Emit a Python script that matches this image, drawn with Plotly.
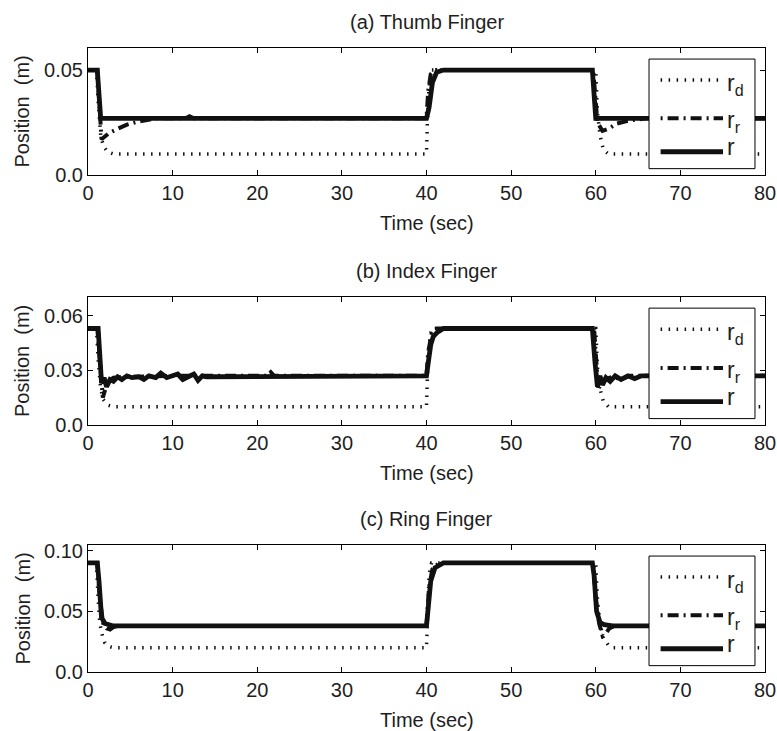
import plotly.graph_objects as go

# ---------------- data ----------------
x_ticks = [0, 10, 20, 30, 40, 50, 60, 70, 80]

# (a) Thumb
thumb_rd_t = [0, 1.0, 1.2, 1.5, 1.8, 2.3, 3.0, 40.0, 40.1, 40.3, 40.6, 60.0, 60.2, 60.5, 60.9, 61.5, 80]
thumb_rd = [0.05, 0.05, 0.035, 0.019, 0.014, 0.011, 0.010, 0.010, 0.025, 0.042, 0.05, 0.05, 0.030, 0.019, 0.012, 0.010, 0.010]
thumb_rr_t = [0, 1.1, 1.6, 2.5, 3.5, 4.6, 6.0, 8.0, 11.5, 12.0, 12.5, 40.0, 40.2, 40.5, 41.0, 59.7, 60.2, 60.8, 61.5, 62.5, 64.0, 66.0, 80]
thumb_rr = [0.05, 0.05, 0.017, 0.020, 0.022, 0.024, 0.0255, 0.027, 0.027, 0.028, 0.027, 0.027, 0.040, 0.048, 0.05, 0.05, 0.025, 0.021, 0.022, 0.0245, 0.026, 0.027, 0.027]
thumb_r_t = [0, 1.1, 1.5, 40.0, 40.3, 40.7, 41.2, 42.0, 59.6, 60.0, 80]
thumb_r = [0.05, 0.05, 0.027, 0.027, 0.032, 0.044, 0.049, 0.05, 0.05, 0.027, 0.027]

# (b) Index
index_rd_t = [0, 1.0, 1.2, 1.5, 1.8, 2.3, 3.0, 40.0, 40.1, 40.3, 40.6, 60.0, 60.2, 60.5, 60.9, 61.5, 80]
index_rd = [0.053, 0.053, 0.036, 0.020, 0.014, 0.011, 0.010, 0.010, 0.026, 0.044, 0.053, 0.053, 0.032, 0.020, 0.013, 0.010, 0.010]
index_rr_t = [0, 1.1, 1.5, 1.75, 2.0, 2.4, 3.0, 5.0, 10.0, 21.2, 21.6, 22.0, 40.0, 40.2, 40.6, 41.2, 59.8, 60.1, 60.3, 60.5, 61.0, 62.0, 63.0, 64.0, 80]
index_rr = [0.053, 0.053, 0.030, 0.015, 0.019, 0.024, 0.026, 0.0265, 0.027, 0.027, 0.029, 0.027, 0.027, 0.040, 0.050, 0.053, 0.053, 0.030, 0.019, 0.022, 0.025, 0.0265, 0.025, 0.027, 0.027]
index_r_t = [0, 1.2, 1.6, 1.9, 2.2, 2.6, 3.0, 3.5, 4.0, 4.6, 5.2, 6.0, 6.6, 7.2, 8.0, 8.6, 9.3, 10.0, 10.6, 11.2, 11.8, 12.5, 13.0, 13.5, 14.0,
             40.0, 40.2, 40.5, 40.8, 41.3, 42.0, 59.6, 59.9, 60.2, 60.5, 60.8, 61.2, 61.7, 62.3, 63.0, 63.8, 64.6, 65.4, 66.0, 80]
index_r = [0.053, 0.053, 0.023, 0.026, 0.021, 0.025, 0.024, 0.0265, 0.025, 0.027, 0.026, 0.0265, 0.025, 0.027, 0.026, 0.0285, 0.026, 0.027, 0.028, 0.025, 0.0265, 0.028, 0.0245, 0.027, 0.0265,
           0.027, 0.034, 0.044, 0.0486, 0.051, 0.053, 0.053, 0.035, 0.021, 0.027, 0.022, 0.026, 0.024, 0.027, 0.025, 0.027, 0.0255, 0.027, 0.027, 0.027]

# (c) Ring
ring_rd_t = [0, 1.0, 1.2, 1.4, 1.7, 2.0, 2.5, 3.0, 40.0, 40.1, 40.3, 40.6, 60.0, 60.2, 60.5, 60.9, 61.5, 62.0, 80]
ring_rd = [0.09, 0.09, 0.06, 0.04, 0.03, 0.024, 0.021, 0.020, 0.020, 0.050, 0.080, 0.090, 0.090, 0.060, 0.040, 0.028, 0.022, 0.020, 0.020]
ring_rr_t = [0, 1.1, 1.4, 1.8, 2.2, 2.6, 3.0, 3.5, 40.0, 40.1, 40.3, 40.7, 41.5, 59.7, 60.0, 60.4, 60.8, 61.2, 61.6, 62.2, 80]
ring_rr = [0.09, 0.09, 0.06, 0.040, 0.036, 0.035, 0.037, 0.038, 0.038, 0.050, 0.070, 0.085, 0.090, 0.090, 0.060, 0.040, 0.030, 0.032, 0.036, 0.038, 0.038]
ring_r_t = [0, 1.1, 1.3, 1.6, 2.0, 2.5, 3.0, 40.0, 40.2, 40.5, 41.0, 42.0, 59.6, 59.8, 60.1, 60.5, 61.0, 62.0, 80]
ring_r = [0.09, 0.09, 0.075, 0.045, 0.040, 0.039, 0.038, 0.038, 0.050, 0.075, 0.086, 0.090, 0.090, 0.080, 0.050, 0.041, 0.039, 0.038, 0.038]

panel_titles = ["(a) Thumb Finger", "(b) Index Finger", "(c) Ring Finger"]
y_ranges = [[0, 0.0605], [0, 0.0703], [0, 0.1048]]
y_tickvals = [[0.0, 0.05], [0.0, 0.03, 0.06], [0.0, 0.05, 0.10]]
y_ticktext = [["0.0", "0.05"], ["0.0", "0.03", "0.06"], ["0.0", "0.05", "0.10"]]
legend_labels = ["r<sub>d</sub>", "r<sub>r</sub>", "r"]

panels = [
    (thumb_rd_t, thumb_rd, thumb_rr_t, thumb_rr, thumb_r_t, thumb_r),
    (index_rd_t, index_rd, index_rr_t, index_rr, index_r_t, index_r),
    (ring_rd_t, ring_rd, ring_rr_t, ring_rr, ring_r_t, ring_r),
]

# ---------------- styling ----------------
W, H = 777, 731
FONT = "Liberation Sans, Arial, Helvetica, sans-serif"
INK = "#111111"
TXT = "#1e1e1e"
DOT = "1.5px,6.5px"
DASHDOT = "2px,5px,11px,5px"
# plot-area pixel boxes (left, right, top, bottom)
boxes = [(88, 765, 48, 175), (88, 765, 297, 425), (88, 765, 545, 672)]

fig = go.Figure()
layout = dict(
    template="none",
    width=W, height=H, margin=dict(l=0, r=0, t=0, b=0, pad=0), autosize=False,
    paper_bgcolor="white", plot_bgcolor="white", showlegend=False,
    font=dict(family=FONT, size=20, color=TXT),
)
shapes = []
annotations = []

for i, (rdt, rd, rrt, rr, rt, r) in enumerate(panels):
    n = "" if i == 0 else str(i + 1)
    xa, ya = "x" + n, "y" + n
    fig.add_trace(go.Scatter(x=rdt, y=rd, mode="lines", xaxis=xa, yaxis=ya,
                             line=dict(color=INK, width=3.5, dash=DOT)))
    fig.add_trace(go.Scatter(x=rrt, y=rr, mode="lines", xaxis=xa, yaxis=ya,
                             line=dict(color=INK, width=4, dash=DASHDOT)))
    fig.add_trace(go.Scatter(x=rt, y=r, mode="lines", xaxis=xa, yaxis=ya,
                             line=dict(color=INK, width=4.8)))
    L, R, T, B = boxes[i]
    common = dict(showline=True, linecolor="black", linewidth=1, mirror="ticks",
                  ticks="inside", ticklen=5, tickcolor="black", showgrid=False,
                  zeroline=False, automargin=False,
                  tickfont=dict(family=FONT, size=20, color=TXT))
    layout["xaxis" + n] = dict(common, domain=[L / W, R / W], range=[0, 80],
                               tickvals=x_ticks, anchor=ya)
    layout["yaxis" + n] = dict(common, domain=[1 - B / H, 1 - T / H], range=y_ranges[i],
                               tickvals=y_tickvals[i], ticktext=y_ticktext[i], anchor=xa)
    cx = (L + R) / 2 / W
    annotations.append(dict(text=panel_titles[i], x=cx, y=1 - (T - 26) / H, xref="paper", yref="paper",
                            showarrow=False, xanchor="center", yanchor="middle", font=dict(size=20)))
    annotations.append(dict(text="Time (sec)", x=cx, y=1 - (B + 48) / H, xref="paper", yref="paper",
                            showarrow=False, xanchor="center", yanchor="middle", font=dict(size=20)))
    annotations.append(dict(text="Position\u00a0\u00a0(m)", x=22 / W, y=1 - (T + B) / 2 / H, xref="paper",
                            yref="paper", showarrow=False, textangle=-90, xanchor="center",
                            yanchor="middle", font=dict(size=20)))
    # legend box
    xd, yd = xa + " domain", ya + " domain"
    shapes.append(dict(type="rect", xref=xd, yref=yd, x0=0.8287, x1=0.9852, y0=0.05, y1=0.913,
                       fillcolor="white", line=dict(color="black", width=1), layer="above"))
    for k, (ly, dash, lw, ys) in enumerate([(0.748, DOT, 3.5, -21), (0.446, DASHDOT, 4, -20),
                                            (0.183, "solid", 4.8, -10)]):
        shapes.append(dict(type="line", xref=xd, yref=yd, x0=0.8458, x1=0.938, y0=ly, y1=ly,
                           line=dict(color=INK, width=lw, dash=dash), layer="above"))
        annotations.append(dict(text=legend_labels[k], x=0.944, y=ly, xref=xd, yref=yd,
                                showarrow=False, xanchor="left", yanchor="bottom", yshift=ys,
                                xshift=-2, font=dict(size=23)))

layout["shapes"] = shapes
layout["annotations"] = annotations
fig.update_layout(**layout)
fig.write_html("out.html")
